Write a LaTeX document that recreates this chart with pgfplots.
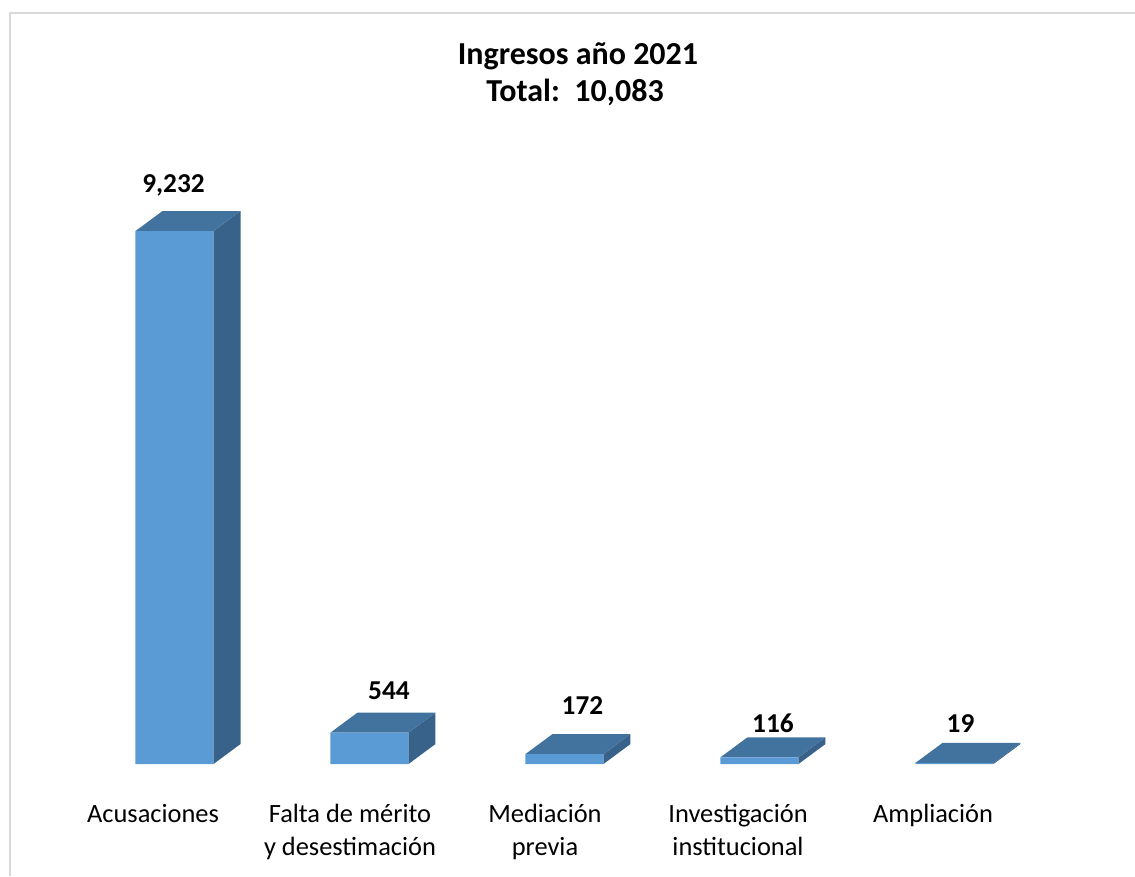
\documentclass[border=0pt]{standalone}
\usepackage{pgfplots}
\pgfplotsset{compat=1.18}
\usepackage{fontspec}
\setmainfont{Carlito}
\definecolor{frontc}{RGB}{91,155,213}
\definecolor{topc}{RGB}{66,114,158}
\definecolor{sidec}{RGB}{56,98,137}
\definecolor{framec}{RGB}{217,217,217}
\begin{document}
\begin{tikzpicture}[x=1pt,y=1pt]
\useasboundingbox (0,0) rectangle (1135,876);
\fill[white] (0,0) rectangle (1135,876);
\draw[framec, line width=2pt] (10,0) -- (10,863) -- (1135,863);
\node[font=\fontsize{32}{38}\bfseries\selectfont, anchor=base] at (578,811) {Ingresos año 2021};
\node[font=\fontsize{32}{38}\bfseries\selectfont, anchor=base] at (575,774) {Total:\ \ 10,083};
\begin{axis}[
  at={(18.5pt,112pt)}, anchor=south west,
  scale only axis, width=1092pt, height=577.3pt,
  xmin=-0.8, xmax=4.8, ymin=0, ymax=10000,
  clip=false,
  axis x line=bottom, axis y line=none,
  x axis line style={draw=none},
  major tick length=0pt,
  xtick={-0.11,0.9,1.9,2.89,3.89},
  xticklabels={{\strut Acusaciones},{\strut Falta de mérito\\y desestimación},{\strut Mediación\\previa},{\strut Investigación\\institucional},{\strut Ampliación}},
  xticklabel style={anchor=north, inner sep=0pt, yshift=-34.9pt, align=center, font=\fontsize{26.4}{33}\selectfont},
]
% side faces
\addplot[fill=sidec, draw=none] coordinates {(0.2,0) (0.2,9232) (0.3385,9578) (0.3385,346)} -- cycle;
\addplot[fill=sidec, draw=none] coordinates {(1.2,0) (1.2,544) (1.3385,890) (1.3385,346)} -- cycle;
\addplot[fill=sidec, draw=none] coordinates {(2.2,0) (2.2,172) (2.3385,518) (2.3385,346)} -- cycle;
\addplot[fill=sidec, draw=none] coordinates {(3.2,0) (3.2,116) (3.3385,462) (3.3385,346)} -- cycle;
\addplot[fill=sidec, draw=none] coordinates {(4.2,0) (4.2,19) (4.3385,365) (4.3385,346)} -- cycle;
% top faces
\addplot[fill=topc, draw=none] coordinates {(-0.2,9232) (0.2,9232) (0.3385,9578) (-0.0615,9578)} -- cycle;
\addplot[fill=topc, draw=none] coordinates {(0.8,544) (1.2,544) (1.3385,890) (0.9385,890)} -- cycle;
\addplot[fill=topc, draw=none] coordinates {(1.8,172) (2.2,172) (2.3385,518) (1.9385,518)} -- cycle;
\addplot[fill=topc, draw=none] coordinates {(2.8,116) (3.2,116) (3.3385,462) (2.9385,462)} -- cycle;
\addplot[fill=topc, draw=none] coordinates {(3.8,19) (4.2,19) (4.3385,365) (3.9385,365)} -- cycle;
% front faces
\addplot[ybar, bar width=0.4, fill=frontc, draw=none] coordinates {(0,9232) (1,544) (2,172) (3,116) (4,19)};
% value labels
\addplot[draw=none, mark=none, nodes near coords, point meta=explicit symbolic,
  nodes near coords style={anchor=base, inner sep=0pt, font=\fontsize{27.3}{32}\bfseries\selectfont}]
  table[meta=lab] {
x y lab
-0.005 9908 9,232
1.100 1109 544
2.092 849 172
3.069 554 116
4.031 554 19
};
\end{axis}
\end{tikzpicture}
\end{document}
